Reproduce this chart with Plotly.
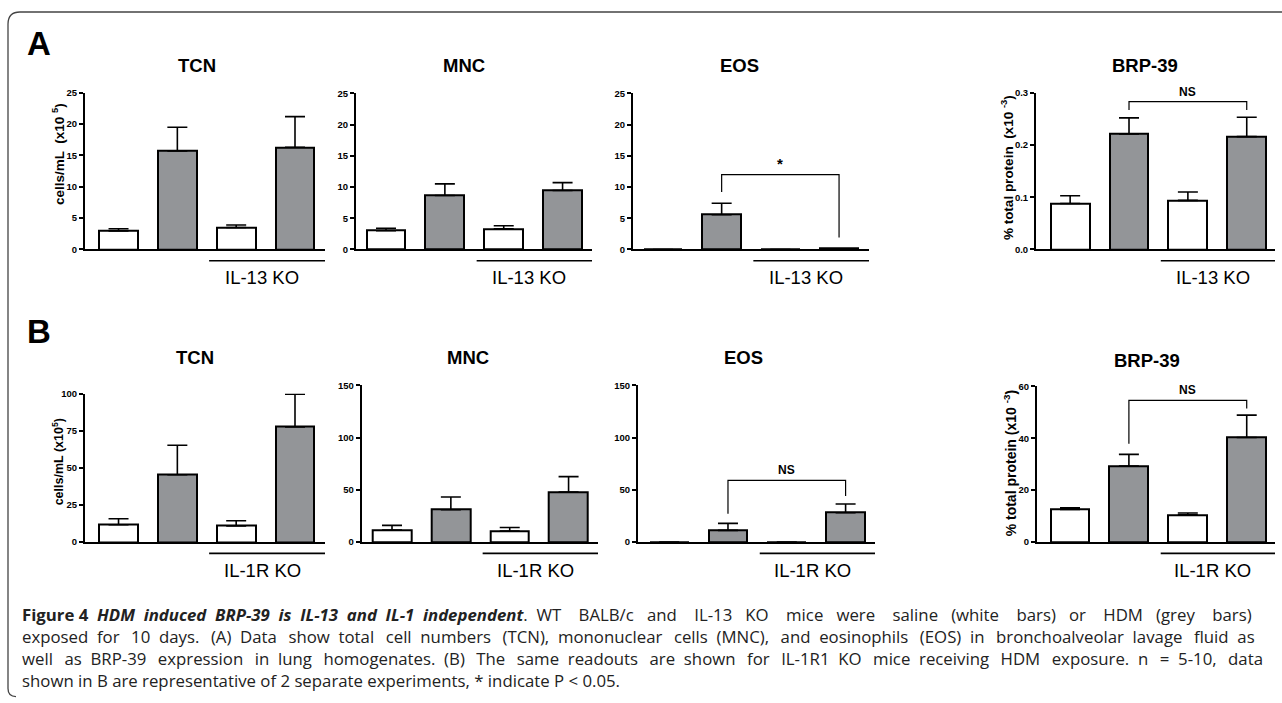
import plotly.graph_objects as go

W, H = 1282, 703

# ---------------- data ----------------
groups = ["WT saline", "WT HDM", "KO saline", "KO HDM"]
bar_colors = ["#ffffff", "#939598", "#ffffff", "#939598"]

a_tcn_mean = [2.95, 15.7, 3.5, 16.3]
a_tcn_sem = [0.35, 3.8, 0.4, 4.9]
a_mnc_mean = [3.0, 8.65, 3.3, 9.45]
a_mnc_sem = [0.4, 1.85, 0.5, 1.25]
a_eos_mean = [0.0, 5.56, 0.0, 0.1]
a_eos_sem = [0.0, 1.84, 0.0, 0.0]
a_brp_mean = [0.088, 0.221, 0.094, 0.216]
a_brp_sem = [0.015, 0.031, 0.016, 0.037]

b_tcn_mean = [11.7, 45.4, 10.8, 77.5]
b_tcn_sem = [4.0, 19.8, 3.6, 22.1]
b_mnc_mean = [11.5, 31.0, 10.5, 47.9]
b_mnc_sem = [4.5, 12.1, 3.5, 14.7]
b_eos_mean = [0.0, 11.2, 0.0, 28.1]
b_eos_sem = [0.0, 6.7, 0.0, 8.3]
b_brp_mean = [12.6, 29.3, 10.5, 40.3]
b_brp_sem = [0.6, 4.5, 0.7, 8.6]

a_ticks_cells = [0, 5, 10, 15, 20, 25]
a_ticks_brp = [0.0, 0.1, 0.2, 0.3]
b_ticks_tcn = [0, 25, 50, 75, 100]
b_ticks_mnc = [0, 50, 100, 150]
b_ticks_brp = [0, 20, 40, 60]

# brackets: (bar i, bar j, top value, leg end i, leg end j, label)
a_eos_bracket = (1, 3, 12.0, 9.2, 1.9, "*")
a_brp_bracket = (1, 3, 0.283, 0.267, 0.267, "NS")
b_eos_bracket = (1, 3, 59.0, 27.1, 44.0, "NS")
b_brp_bracket = (1, 3, 54.6, 37.9, 51.4, "NS")

ko_a = "IL-13 KO"
ko_b = "IL-1R KO"

caption_head = "<b>Figure 4</b> <b><i>HDM induced BRP-39 is IL-13 and IL-1 independent</i></b>."
caption_lines = [
    "WT BALB/c and IL-13 KO mice were saline (white bars) or HDM (grey bars)",
    "exposed for 10 days. (A) Data show total cell numbers (TCN), mononuclear cells (MNC), and eosinophils (EOS) in bronchoalveolar lavage fluid as",
    "well as BRP-39 expression in lung homogenates. (B) The same readouts are shown for IL-1R1 KO mice receiving HDM exposure. n = 5-10, data",
    "shown in B are representative of 2 separate experiments, * indicate P &lt; 0.05.",
]

# ---------------- layout helpers ----------------
def fx(p):
    return p / W

def fy(p):
    p = (p - 6.0) / 0.9836
    return 1 - p / H

FONT = "Liberation Sans, Arial, sans-serif"

panels = [
    dict(mean=a_tcn_mean, sem=a_tcn_sem, ax=85, ex=325, top=92.7, base=249.3, ymax=25, xr=(-0.57, 3.51),
         ticks=a_ticks_cells, fmt="{:g}", title="TCN", txy=(197, 65), ko=ko_a,
         ytitle="cells/mL  (x10 <sup>5</sup>)", yt_xy=(58, 154), yt_size=13.5, bracket=None),
    dict(mean=a_mnc_mean, sem=a_mnc_sem, ax=356, ex=592, top=93.3, base=249.3, ymax=25, xr=(-0.51, 3.5),
         ticks=a_ticks_cells, fmt="{:g}", title="MNC", txy=(464, 65), ko=ko_a, ytitle=None, bracket=None),
    dict(mean=a_eos_mean, sem=a_eos_sem, ax=633, ex=869, top=93.3, base=249.3, ymax=25, xr=(-0.51, 3.51),
         ticks=a_ticks_cells, fmt="{:g}", title="EOS", txy=(740, 65), ko=ko_a, ytitle=None, bracket=a_eos_bracket),
    dict(mean=a_brp_mean, sem=a_brp_sem, ax=1036, ex=1275, top=92.7, base=249.3, ymax=0.3, xr=(-0.58, 3.48),
         ticks=a_ticks_brp, fmt="{:.1f}", title="BRP-39", txy=(1145, 65), ko=ko_a,
         ytitle="% total protein  (x10 <sup>-3</sup>)", yt_xy=(1007, 168), yt_size=13.5, bracket=a_brp_bracket),
    dict(mean=b_tcn_mean, sem=b_tcn_sem, ax=85, ex=325, top=393.3, base=541.7, ymax=100, xr=(-0.57, 3.51),
         ticks=b_ticks_tcn, fmt="{:g}", title="TCN", txy=(195, 357), ko=ko_b,
         ytitle="cells/mL (x10<sup>5</sup>)", yt_xy=(58, 462), yt_size=12.5, bracket=None),
    dict(mean=b_mnc_mean, sem=b_mnc_sem, ax=361.7, ex=598, top=385, base=541.7, ymax=150, xr=(-0.515, 3.5),
         ticks=b_ticks_mnc, fmt="{:g}", title="MNC", txy=(468, 357), ko=ko_b, ytitle=None, bracket=None),
    dict(mean=b_eos_mean, sem=b_eos_sem, ax=638, ex=875, top=385, base=541.7, ymax=150, xr=(-0.53, 3.5),
         ticks=b_ticks_mnc, fmt="{:g}", title="EOS", txy=(743, 357), ko=ko_b, ytitle=None, bracket=b_eos_bracket),
    dict(mean=b_brp_mean, sem=b_brp_sem, ax=1037, ex=1275, top=386, base=541.7, ymax=60, xr=(-0.56, 3.48),
         ticks=b_ticks_brp, fmt="{:g}", title="BRP-39", txy=(1147, 360), ko=ko_b,
         ytitle="% total protein (x10 <sup>-3</sup>)", yt_xy=(1010, 463), yt_size=14, bracket=b_brp_bracket),
]

fig = go.Figure()
shapes = []
annotations = []
xpos = list(range(len(groups)))

for k, p in enumerate(panels):
    n = "" if k == 0 else str(k + 1)
    xa, ya = "x" + n, "y" + n
    fig.add_trace(go.Bar(
        x=xpos, y=p["mean"], width=0.66, xaxis=xa, yaxis=ya,
        marker=dict(color=bar_colors, line=dict(color="black", width=2)),
        error_y=dict(type="data", symmetric=False, array=p["sem"], arrayminus=[0] * 4,
                     color="black", thickness=1.6, width=10),
        showlegend=False, hoverinfo="skip",
    ))
    fig.layout["xaxis" + n] = dict(
        domain=[fx(p["ax"]), fx(p["ex"])], range=list(p["xr"]), anchor=ya,
        showline=True, linecolor="black", linewidth=2.2, showticklabels=False,
        ticks="", showgrid=False, zeroline=False, fixedrange=True,
    )
    fig.layout["yaxis" + n] = dict(
        domain=[fy(p["base"]), fy(p["top"])], range=[0, p["ymax"]], anchor=xa,
        showline=True, linecolor="black", linewidth=2, ticks="outside", ticklen=4,
        tickwidth=1.5, tickcolor="black", tickvals=p["ticks"],
        ticktext=["<b>" + p["fmt"].format(t) + "</b>" for t in p["ticks"]],
        tickfont=dict(family=FONT, size=9.5, color="black"), showgrid=False,
        zeroline=False, fixedrange=True,
    )

    def dx(d, p=p):
        r0, r1 = p["xr"]
        return p["ax"] + (d - r0) / (r1 - r0) * (p["ex"] - p["ax"])

    annotations.append(dict(x=fx(p["txy"][0]), y=fy(p["txy"][1]), xref="paper", yref="paper",
                            text="<b>" + p["title"] + "</b>", showarrow=False,
                            font=dict(family=FONT, size=18.5, color="black"),
                            xanchor="center", yanchor="middle"))
    x0 = dx(1.54)
    x1 = p["ex"]
    ly = p["base"] + 11.3
    shapes.append(dict(type="line", xref="paper", yref="paper", x0=fx(x0), x1=fx(x1),
                       y0=fy(ly), y1=fy(ly), line=dict(color="black", width=1.6)))
    annotations.append(dict(x=fx((x0 + x1) / 2 - 5), y=fy(p["base"] + 28), xref="paper", yref="paper",
                            text=p["ko"], showarrow=False,
                            font=dict(family=FONT, size=18.5, color="black"),
                            xanchor="center", yanchor="middle"))
    if p["ytitle"]:
        annotations.append(dict(x=fx(p["yt_xy"][0]), y=fy(p["yt_xy"][1]), xref="paper", yref="paper",
                                text="<b>" + p["ytitle"] + "</b>", showarrow=False, textangle=-90,
                                font=dict(family=FONT, size=p["yt_size"], color="black"),
                                xanchor="center", yanchor="middle"))
    if p["bracket"]:
        i, j, top, li, lj, lab = p["bracket"]
        shapes.append(dict(type="path", xref=xa, yref=ya,
                           path=f"M {i},{li} L {i},{top} L {j},{top} L {j},{lj}",
                           line=dict(color="black", width=1.2)))
        annotations.append(dict(x=(i + j) / 2, y=top, xref=xa, yref=ya, text="<b>" + lab + "</b>",
                                showarrow=False, yanchor="bottom", yshift=1,
                                font=dict(family=FONT, size=15 if lab == "*" else 12, color="black")))

for lab, yy in (("A", 43), ("B", 331)):
    annotations.append(dict(x=fx(25), y=fy(yy), xref="paper", yref="paper", text="<b>" + lab + "</b>",
                            showarrow=False, xanchor="left", yanchor="middle",
                            font=dict(family=FONT, size=33, color="black")))

shapes.append(dict(type="path", xref="paper", yref="paper",
                   path=f"M {fx(1282)},{fy(12)} L {fx(20)},{fy(12)} Q {fx(8)},{fy(12)} {fx(8)},{fy(24)} "
                        f"L {fx(8)},{fy(688)} Q {fx(8)},{fy(696)} {fx(16)},{fy(696)}",
                   line=dict(color="#444444", width=1.3)))


def spaced(s, gaps):
    words = s.split(" ")
    out = words[0]
    for idx, w in enumerate(words[1:]):
        out += gaps[idx % len(gaps)] + w
    return out


G1 = "&nbsp; "
G2 = "&nbsp;&#8201; "
G3 = "&nbsp;&nbsp;&nbsp; "
G4 = "&nbsp;&nbsp; "
caption_text = [
    spaced(caption_head, [G1]).replace("Figure&nbsp; 4", "Figure 4") + G1 + spaced(caption_lines[0], [G3, G4]),
    spaced(caption_lines[1], [G1, G2]),
    spaced(caption_lines[2], [G2, G1, G2, G2, G1]),
    caption_lines[3],
]

for li, txt in enumerate(caption_text):
    annotations.append(dict(x=fx(20), y=fy(614 + 22 * li), xref="paper", yref="paper", text=txt,
                            showarrow=False, xanchor="left", yanchor="middle",
                            font=dict(family="Open Sans, sans-serif", size=16.8, color="#222222")))

fig.update_layout(
    width=W, height=H, margin=dict(l=0, r=0, t=0, b=0),
    paper_bgcolor="white", plot_bgcolor="white",
    shapes=shapes, annotations=annotations, bargap=0,
)

fig.write_html("out.html", config={"displayModeBar": False},
               post_script="document.body.style.margin='0';document.body.style.overflow='hidden';")
